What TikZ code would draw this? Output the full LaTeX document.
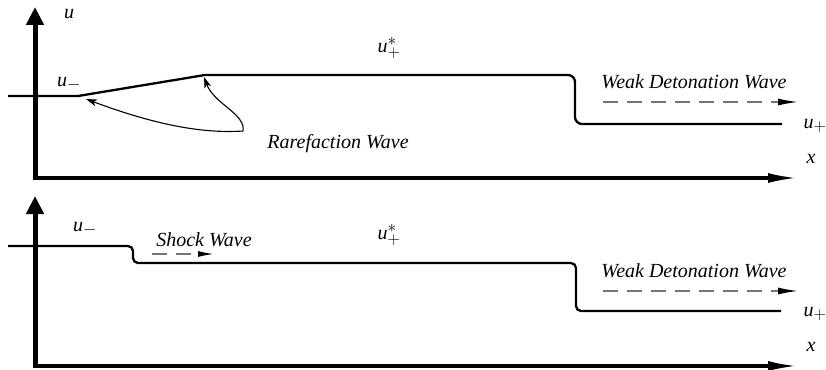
\documentclass[tikz,border=0pt]{standalone}
\usepackage{fontspec}
\setmainfont{Liberation Serif}
\DeclareMathSizes{20}{20}{16}{12}
\usetikzlibrary{arrows.meta}

\tikzset{
  lbl/.style={inner sep=0pt, font=\fontsize{20}{24}\selectfont\itshape},
  vaxis/.style={line width=5pt, -{Triangle[length=18pt,width=17pt]}},
  haxis/.style={line width=3.2pt, -{Latex[length=30pt,width=10pt]}},
  profile/.style={line width=2.3pt, line join=round},
  wavearrow/.style={draw=black!55, line width=1.4pt, dash pattern=on 15pt off 9pt,
    -{Latex[length=20pt,width=7pt,color=black]}},
  pointer/.style={line width=1.1pt, -{Stealth[length=11pt,width=7pt,inset=3pt]}}
}

\begin{document}
\begin{tikzpicture}[x=1pt,y=-1pt]
\useasboundingbox (0,0) rectangle (826,369);

% ---------- upper panel: rarefaction + weak detonation ----------
\coordinate (ua0) at (35,180);
\coordinate (ua1) at (35,7);
\coordinate (ux0) at (33,178);
\coordinate (ux1) at (798,178);
\draw[vaxis] (ua0) -- (ua1);
\draw[haxis] (ux0) -- (ux1);

\coordinate (p0) at (8,96);
\coordinate (p1) at (78,96);
\coordinate (p2) at (205,75);
\coordinate (p3) at (575,75);
\coordinate (p4) at (575,124);
\coordinate (p5) at (782,124);
\draw[profile] (p0) -- (p1) -- (p2) [rounded corners=7pt] -- (p3) -- (p4) -- (p5);

\node[lbl] (uaxis) at (69,14) {u};
\node[lbl] (um1) at (69,84) {u$_{-}$};
\node[lbl] (us1) at (389,48) {u$^{*}_{+}$};
\node[lbl] (up1) at (815,126) {u$_{+}$};
\node[lbl] (x1) at (811,159) {x};
\node[lbl] (wd1) at (694,82) {Weak Detonation Wave};
\node[lbl] (rw) at (338,144) {Rarefaction Wave};

\coordinate (wd1a) at (603,102);
\coordinate (wd1b) at (798,102);
\draw[wavearrow] (wd1a) -- (wd1b);

\coordinate (r0) at (243,131);
\coordinate (rt1) at (86,99);
\coordinate (rt2) at (204,77);
\draw[pointer] (r0) .. controls (200,134) and (150,123) .. (rt1);
\draw[pointer] (r0) .. controls (246,114) and (214,104) .. (rt2);

% ---------- lower panel: shock + weak detonation ----------
\coordinate (la0) at (35,368);
\coordinate (la1) at (35,196);
\coordinate (lx0) at (33,366);
\coordinate (lx1) at (798,366);
\draw[vaxis] (la0) -- (la1);
\draw[haxis] (lx0) -- (lx1);

\coordinate (q0) at (8,246);
\coordinate (q1) at (133,246);
\coordinate (q2) at (133,263);
\coordinate (q3) at (576,263);
\coordinate (q4) at (576,311);
\coordinate (q5) at (781,311);
\draw[profile, rounded corners=5pt] (q0) -- (q1) -- (q2) -- (q3) -- (q4) -- (q5);

\node[lbl] (um2) at (85,229) {u$_{-}$};
\node[lbl] (sw) at (204,240) {Shock Wave};
\node[lbl] (us2) at (389,235) {u$^{*}_{+}$};
\node[lbl] (up2) at (815,314) {u$_{+}$};
\node[lbl] (x2) at (811,347) {x};
\node[lbl] (wd2) at (694,271) {Weak Detonation Wave};

\coordinate (sw0) at (152,254);
\coordinate (sw1) at (214,254);
\draw[wavearrow, -{Latex[length=16pt,width=6pt,color=black]}] (sw0) -- (sw1);

\coordinate (wd2a) at (603,291);
\coordinate (wd2b) at (798,291);
\draw[wavearrow] (wd2a) -- (wd2b);
\end{tikzpicture}
\end{document}
